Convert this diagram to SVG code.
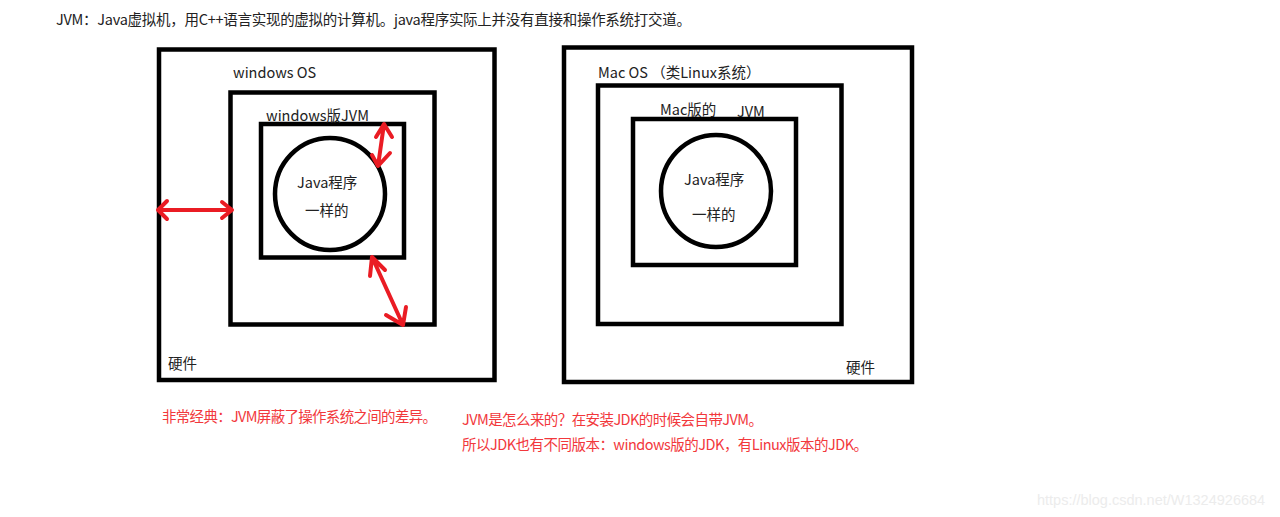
<svg xmlns="http://www.w3.org/2000/svg" width="1280" height="517" viewBox="0 0 1280 517">
<style>
.box{fill:none;stroke:#000;stroke-width:4.5}
.lbl{font-family:"Noto Sans CJK SC","Liberation Sans",sans-serif;font-size:14.5px;fill:#222}
.red{font-family:"Noto Sans CJK SC","Liberation Sans",sans-serif;font-size:14.5px;fill:#f2383c}
.arr{fill:none;stroke:#ea1c24;stroke-width:4;stroke-linecap:round;stroke-linejoin:round}
</style>
<rect width="1280" height="517" fill="#fff"/>
<text class="lbl" x="56" y="25" textLength="635" lengthAdjust="spacing">JVM：Java虚拟机，用C++语言实现的虚拟的计算机。java程序实际上并没有直接和操作系统打交道。</text>
<g id="left-hardware">
<rect class="box" x="159" y="49.5" width="335.5" height="330.5"/>
<text class="lbl" x="168" y="369">硬件</text>
</g>
<g id="left-os">
<rect class="box" x="230.5" y="92.5" width="204" height="232"/>
<text class="lbl" x="233" y="78">windows OS</text>
</g>
<g id="left-jvm">
<rect class="box" x="261" y="124" width="143" height="133.5"/>
<text class="lbl" x="266" y="121">windows版JVM</text>
</g>
<g id="left-program">
<ellipse class="box" cx="330" cy="194" rx="55" ry="56"/>
<text class="lbl" x="297" y="188">Java程序</text>
<text class="lbl" x="305" y="216">一样的</text>
</g>
<g id="right-hardware">
<rect class="box" x="564" y="47.5" width="348" height="334.5"/>
<text class="lbl" x="846" y="373">硬件</text>
</g>
<g id="right-os">
<rect class="box" x="598" y="85.5" width="243.5" height="238.5"/>
<text class="lbl" x="598" y="78">Mac OS （类Linux系统）</text>
</g>
<g id="right-jvm">
<rect class="box" x="633" y="119" width="163" height="146"/>
<text class="lbl" x="660" y="115">Mac版的</text>
<text class="lbl" x="737" y="117">JVM</text>
</g>
<g id="right-program">
<ellipse class="box" cx="716" cy="191" rx="55" ry="56"/>
<text class="lbl" x="684" y="185">Java程序</text>
<text class="lbl" x="692" y="220">一样的</text>
</g>
<g id="connectors">
<path class="arr" d="M158 210 L232 210 M167 201 L158 210 L167 219 M222 202 L232 210 L222 218"/>
<path class="arr" d="M384 124 L378 166 M376 137 L384 124 L392 137 M372 155 L378 166 L390 153"/>
<path class="arr" d="M372 257 L403 325 M370 276 L372 257 L385 270 M386 315 L403 325 L406 307"/>
</g>
<text class="red" x="162" y="422" textLength="275" lengthAdjust="spacing">非常经典：JVM屏蔽了操作系统之间的差异。</text>
<text class="red" x="462" y="425" textLength="301" lengthAdjust="spacing">JVM是怎么来的？在安装JDK的时候会自带JVM。</text>
<text class="red" x="462" y="450" textLength="406" lengthAdjust="spacing">所以JDK也有不同版本：windows版的JDK，有Linux版本的JDK。</text>
<text x="1037" y="505" font-family="Liberation Sans, sans-serif" font-size="14.5" fill="#ececec">https://blog.csdn.net/W1324926684</text>
</svg>
